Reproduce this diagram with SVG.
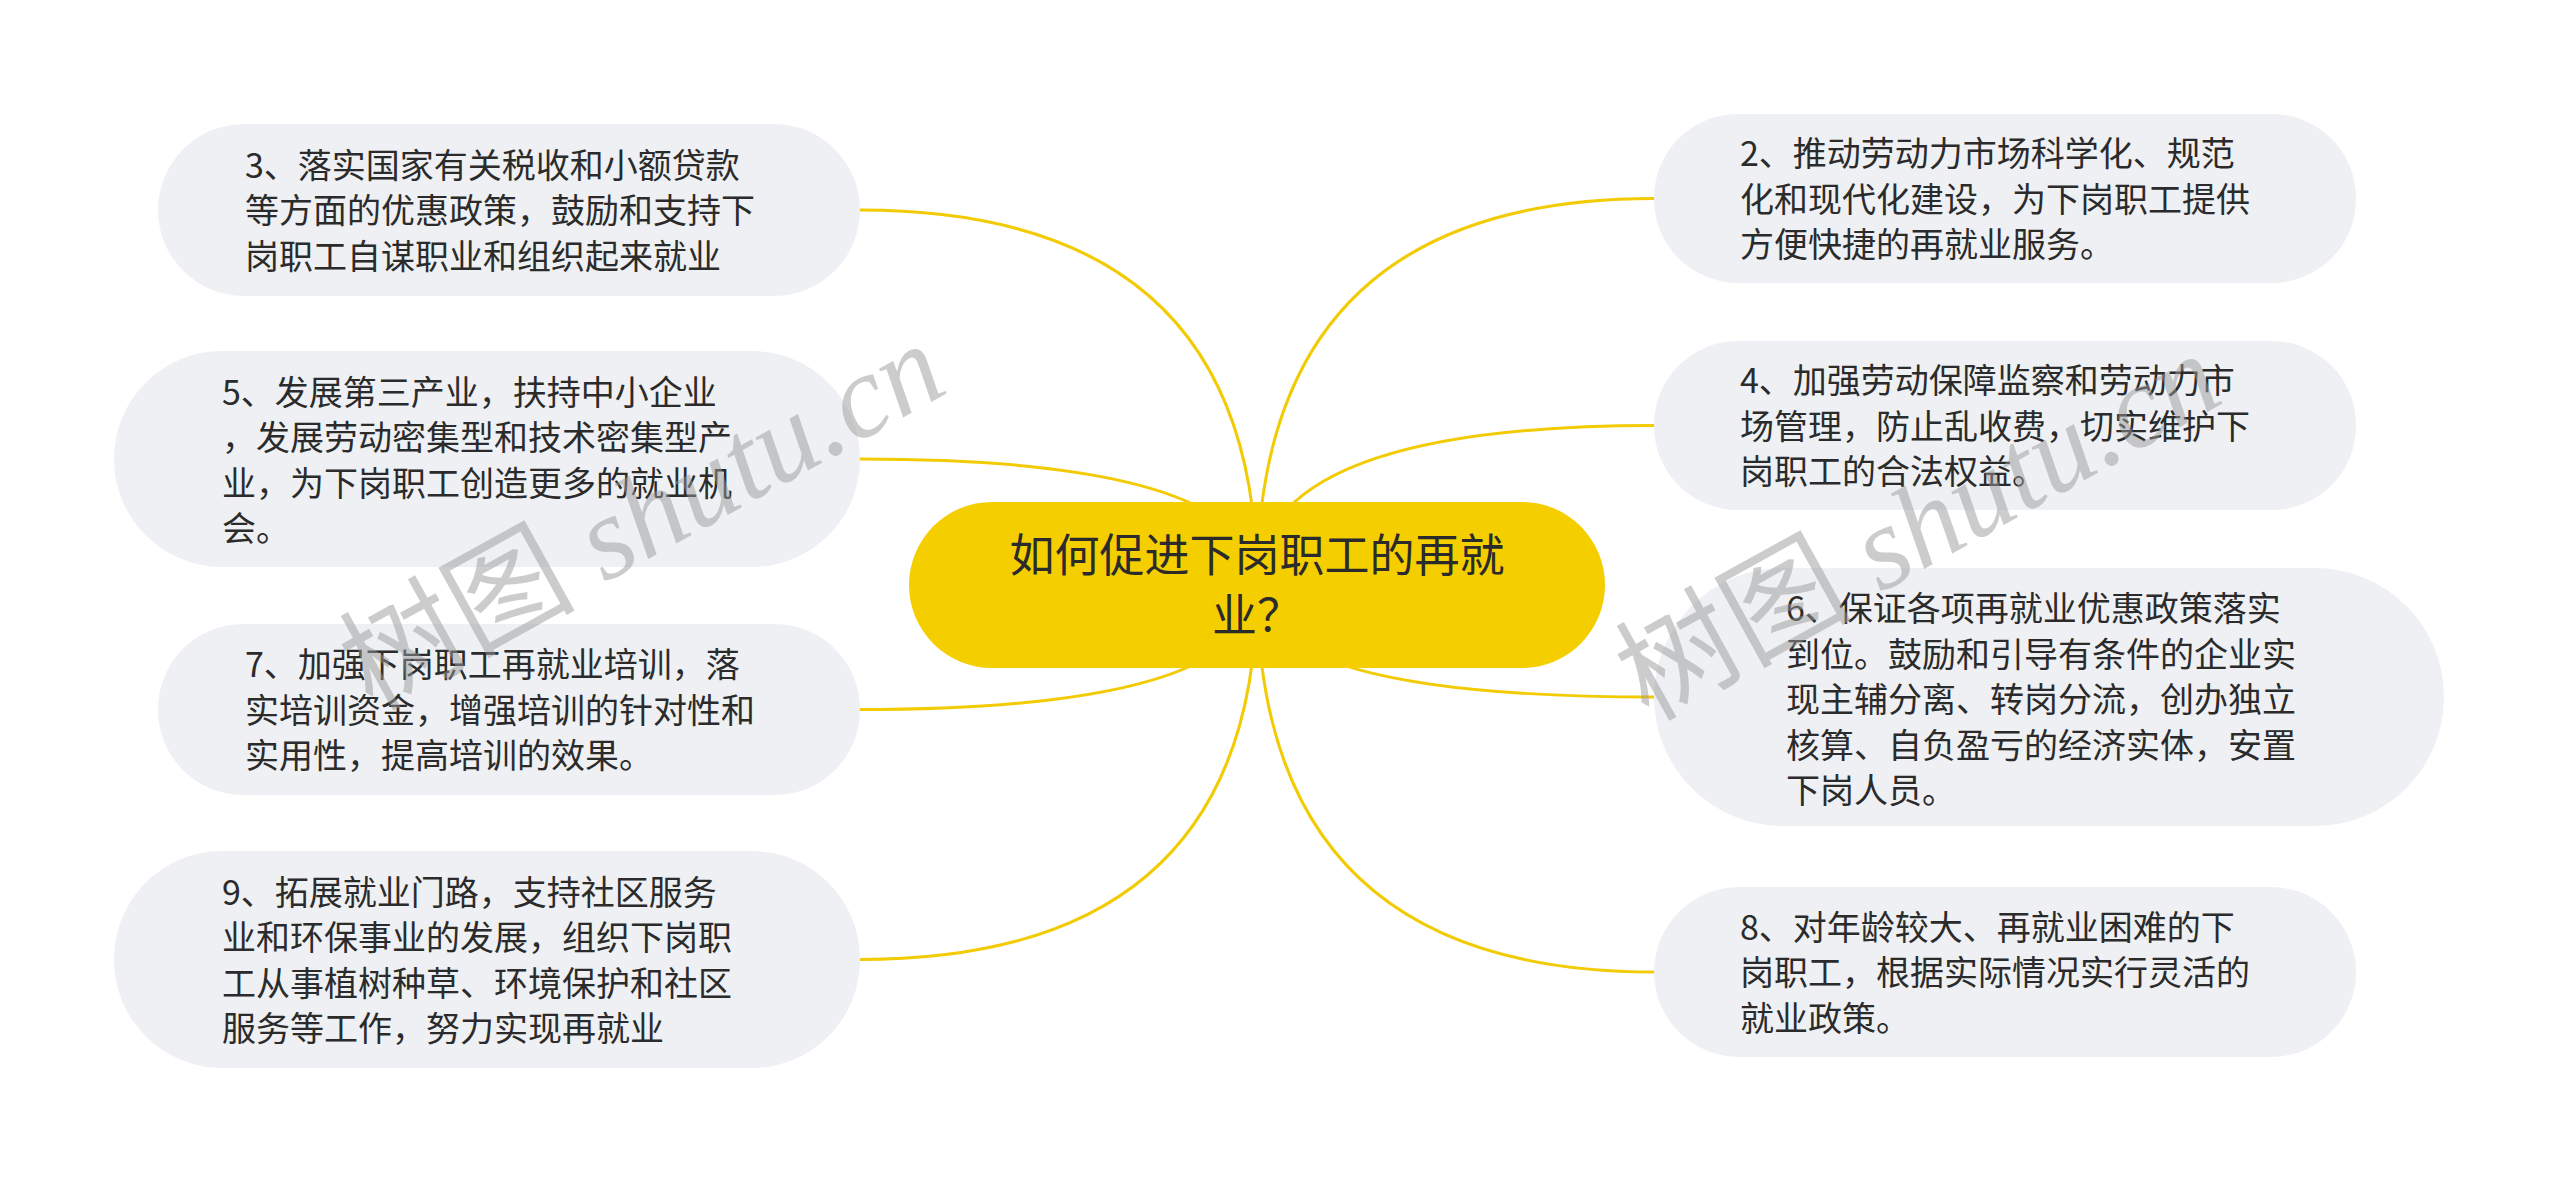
<svg xmlns="http://www.w3.org/2000/svg" width="2560" height="1181" viewBox="0 0 2560 1181">
<style>
.box{fill:#EEF0F3;}
.t{font-family:"Noto Sans CJK SC","Noto Sans",sans-serif;font-size:34px;fill:#2b2b2b;}
.ct{font-family:"Noto Sans CJK SC","Noto Sans",sans-serif;font-size:45px;fill:#2b2b2b;text-anchor:middle;}
.link{fill:none;stroke:#F2CB05;stroke-width:3;}
.wm{font-family:"Liberation Serif","Noto Sans CJK SC",serif;font-size:118px;fill:#9a9a9a;fill-opacity:0.5;}
.wm .lat{font-style:italic;}
</style>
<rect width="2560" height="1181" fill="#ffffff"/>
<g id="connectors">
<path class="link" d="M1257 585 Q1257 210 860 210"/>
<path class="link" d="M1257 585 Q1257 459 860 459"/>
<path class="link" d="M1257 585 Q1257 709.5 860 709.5"/>
<path class="link" d="M1257 585 Q1257 959.5 860 959.5"/>
<path class="link" d="M1257 585 Q1257 198.5 1654 198.5"/>
<path class="link" d="M1257 585 Q1257 425.5 1654 425.5"/>
<path class="link" d="M1257 585 Q1257 697 1654 697"/>
<path class="link" d="M1257 585 Q1257 972 1654 972"/>
</g>
<g id="root">
<rect x="909" y="502" width="696" height="166" rx="83" fill="#F5CE00"/>
<text class="ct" x="1257" y="572">如何促进下岗职工的再就</text>
<text class="ct" x="1257" y="632">业？</text>
</g>
<g id="n3">
<rect class="box" x="158" y="124" width="702" height="172" rx="86"/>
<text class="t" x="245" y="178">3、落实国家有关税收和小额贷款</text>
<text class="t" x="245" y="223">等方面的优惠政策，鼓励和支持下</text>
<text class="t" x="245" y="269">岗职工自谋职业和组织起来就业</text>
</g>
<g id="n5">
<rect class="box" x="114" y="351" width="746" height="216" rx="108"/>
<text class="t" x="222" y="405">5、发展第三产业，扶持中小企业</text>
<text class="t" x="222" y="450">，发展劳动密集型和技术密集型产</text>
<text class="t" x="222" y="496">业，为下岗职工创造更多的就业机</text>
<text class="t" x="222" y="541">会。</text>
</g>
<g id="n7">
<rect class="box" x="158" y="624" width="702" height="171" rx="85"/>
<text class="t" x="245" y="677">7、加强下岗职工再就业培训，落</text>
<text class="t" x="245" y="723">实培训资金，增强培训的针对性和</text>
<text class="t" x="245" y="768">实用性，提高培训的效果。</text>
</g>
<g id="n9">
<rect class="box" x="114" y="851" width="746" height="217" rx="108"/>
<text class="t" x="222" y="905">9、拓展就业门路，支持社区服务</text>
<text class="t" x="222" y="950">业和环保事业的发展，组织下岗职</text>
<text class="t" x="222" y="996">工从事植树种草、环境保护和社区</text>
<text class="t" x="222" y="1041">服务等工作，努力实现再就业</text>
</g>
<g id="n2">
<rect class="box" x="1654" y="114" width="702" height="169" rx="84"/>
<text class="t" x="1740" y="166">2、推动劳动力市场科学化、规范</text>
<text class="t" x="1740" y="212">化和现代化建设，为下岗职工提供</text>
<text class="t" x="1740" y="257">方便快捷的再就业服务。</text>
</g>
<g id="n4">
<rect class="box" x="1654" y="341" width="702" height="169" rx="84"/>
<text class="t" x="1740" y="393">4、加强劳动保障监察和劳动力市</text>
<text class="t" x="1740" y="439">场管理，防止乱收费，切实维护下</text>
<text class="t" x="1740" y="484">岗职工的合法权益。</text>
</g>
<g id="n6">
<rect class="box" x="1654" y="568" width="790" height="258" rx="129"/>
<text class="t" x="1786" y="621">6、保证各项再就业优惠政策落实</text>
<text class="t" x="1786" y="667">到位。鼓励和引导有条件的企业实</text>
<text class="t" x="1786" y="712">现主辅分离、转岗分流，创办独立</text>
<text class="t" x="1786" y="758">核算、自负盈亏的经济实体，安置</text>
<text class="t" x="1786" y="803">下岗人员。</text>
</g>
<g id="n8">
<rect class="box" x="1654" y="887" width="702" height="170" rx="85"/>
<text class="t" x="1740" y="940">8、对年龄较大、再就业困难的下</text>
<text class="t" x="1740" y="985">岗职工，根据实际情况实行灵活的</text>
<text class="t" x="1740" y="1031">就业政策。</text>
</g>
<g id="watermark">
<text class="wm" transform="translate(372,712) rotate(-29)">树图 <tspan class="lat">shutu.cn</tspan></text>
<text class="wm" transform="translate(1648,722) rotate(-29)">树图 <tspan class="lat">shutu.cn</tspan></text>
</g>
</svg>
